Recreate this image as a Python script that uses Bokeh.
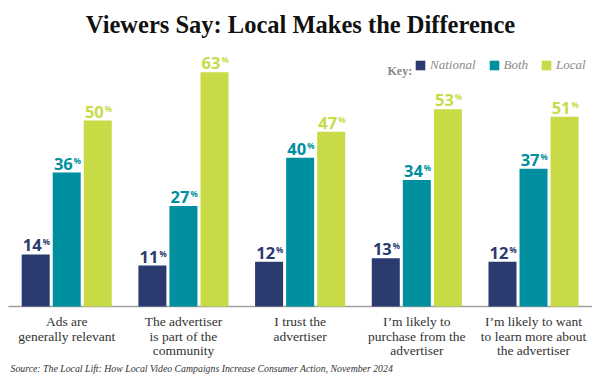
from bokeh.plotting import figure
from bokeh.models import ColumnDataSource, Range1d, Label, Legend, LegendItem
from bokeh.core.properties import value
from bokeh.embed import file_html
from bokeh.resources import INLINE

# ---- data ----
categories = [
    "Ads are\ngenerally relevant",
    "The advertiser\nis part of the\ncommunity",
    "I trust the\nadvertiser",
    "I\u2019m likely to\npurchase from the\nadvertiser",
    "I\u2019m likely to want\nto learn more about\nthe advertiser",
]
series_names = ["National", "Both", "Local"]
national = [14, 11, 12, 13, 12]
both = [36, 27, 40, 34, 37]
local = [50, 63, 47, 53, 51]

colors = ["#2B3A6F", "#008F9F", "#C8DB47"]
offsets = [-0.266, 0.0, 0.266]
bar_w = 0.24

n = len(categories)
centers = [i + 0.5 for i in range(n)]

p = figure(width=600, height=375, output_backend="svg", toolbar_location=None,
           x_range=Range1d(-0.0677, 5.074), y_range=Range1d(-18.55, 82.26),
           min_border=0, min_border_left=0, min_border_right=0,
           min_border_top=0, min_border_bottom=0)
p.xaxis.visible = False
p.yaxis.visible = False
p.grid.visible = False
p.outline_line_color = None
p.background_fill_color = "white"
p.border_fill_color = "white"

sans = value("Open Sans")
serif = value("Liberation Serif")

# baseline
p.segment(x0=[0], y0=[0], x1=[n], y1=[0], line_color="#A0A0A0", line_width=1.5)

renderers = []
for vals, col, off, name in zip([national, both, local], colors, offsets, series_names):
    xs = [c + off for c in centers]
    src = ColumnDataSource(dict(x=xs, top=vals,
                                lab=[str(v) for v in vals],
                                pct=["%"] * n))
    r = p.vbar(x="x", top="top", bottom=0, width=bar_w, source=src,
               fill_color=col, line_color=None)
    renderers.append(r)
    p.text(x="x", y="top", text="lab", source=src, text_font=sans,
           text_font_style="bold", text_font_size="16.5px", text_color=col,
           text_align="right", text_baseline="alphabetic",
           x_offset=6, y_offset=-9)
    p.text(x="x", y="top", text="pct", source=src, text_font=sans,
           text_font_style="bold", text_font_size="8px", text_color=col,
           text_align="left", text_baseline="alphabetic",
           x_offset=7, y_offset=-12.5)

# category labels
csrc = ColumnDataSource(dict(x=centers, y=[0] * n, t=categories))
p.text(x="x", y="y", text="t", source=csrc, text_font=serif,
       text_font_size="13.5px", text_color="#333333", text_align="center",
       text_baseline="top", y_offset=8, text_line_height=0.95)

# title
p.add_layout(Label(x=300, y=351, x_units="screen", y_units="screen",
                   text="Viewers Say: Local Makes the Difference",
                   text_font="Liberation Serif", text_font_style="bold",
                   text_font_size="24.5px", text_color="#111111",
                   text_align="center", text_baseline="alphabetic"))

# key
p.add_layout(Label(x=387, y=305, x_units="screen", y_units="screen",
                   text="Key:", text_font="Liberation Serif",
                   text_font_style="bold", text_font_size="12px",
                   text_color="#888888", text_baseline="alphabetic"))

legend = Legend(items=[LegendItem(label=nm, renderers=[r])
                       for nm, r in zip(series_names, renderers)],
                orientation="horizontal", location=(414, 302),
                glyph_width=12, glyph_height=12, label_height=12,
                label_standoff=4, spacing=12, padding=0, margin=0,
                border_line_color=None, background_fill_alpha=0,
                label_text_font="Liberation Serif",
                label_text_font_style="italic", label_text_font_size="13px",
                label_text_color="#8A8A8A")
p.add_layout(legend)

# source
p.add_layout(Label(x=10, y=7, x_units="screen", y_units="screen",
                   text="Source: The Local Lift: How Local Video Campaigns Increase Consumer Action, November 2024",
                   text_font="Liberation Serif", text_font_style="italic",
                   text_font_size="9.8px", text_color="#333333",
                   text_baseline="alphabetic"))

open("out.html", "w").write(file_html(p, INLINE))
